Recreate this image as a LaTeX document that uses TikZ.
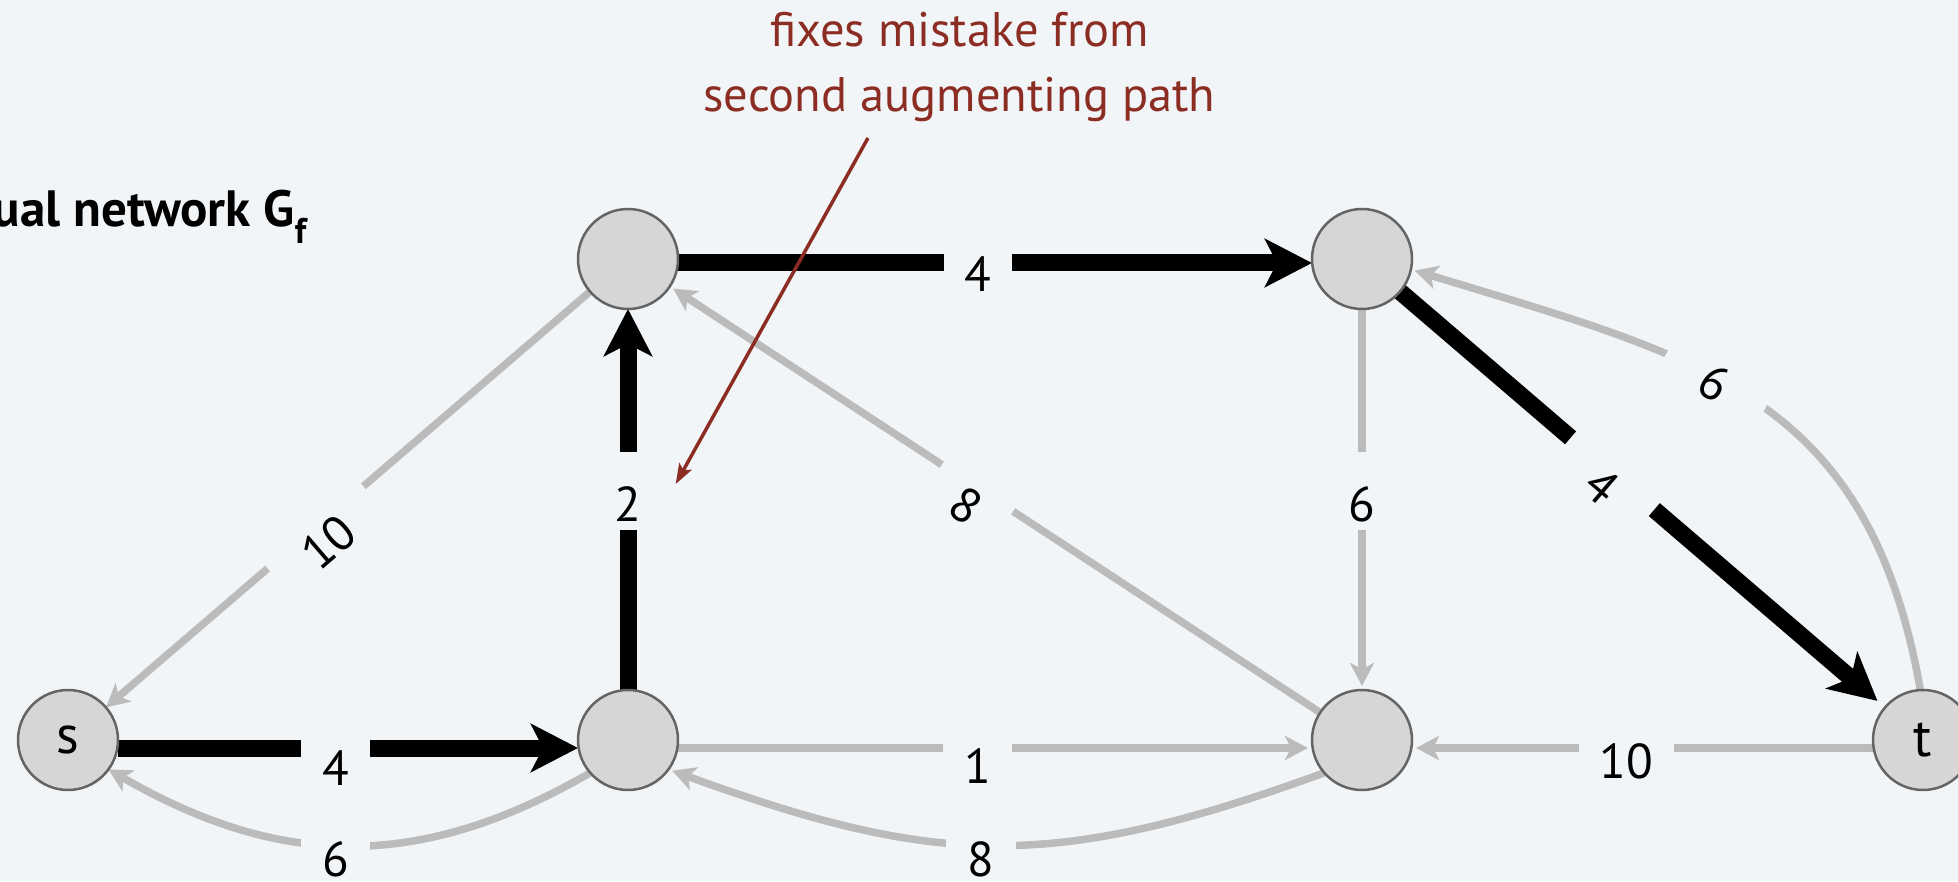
\documentclass[tikz,border=0pt]{standalone}
\usepackage{fontspec}
\setmainfont{PT Sans}
\usetikzlibrary{arrows.meta}
\definecolor{bgc}{RGB}{242,245,248}
\definecolor{nodefill}{RGB}{214,214,214}
\definecolor{nodedraw}{RGB}{100,100,100}
\definecolor{edgegray}{RGB}{187,187,187}
\definecolor{notered}{RGB}{140,45,35}
\pgfdeclarelayer{back}
\pgfsetlayers{back,main}
\newcommand\lblfont{\fontsize{49pt}{51pt}\selectfont}
\newcommand\vtxfont{\fontsize{54pt}{56pt}\selectfont}
\newcommand\notefont{\fontsize{48.5pt}{65pt}\selectfont}
\newcommand\ttlfont{\fontsize{51pt}{56pt}\selectfont\bfseries}
\begin{document}
\begin{tikzpicture}[x=1pt,y=1pt,
  vtx/.style={circle, draw=nodedraw, line width=2.5pt, fill=nodefill, minimum size=100pt, inner sep=0pt, outer sep=0pt, font=\vtxfont},
  blk/.style={line width=17pt, draw=black, -{Stealth[length=47pt,width=48pt,inset=12pt]}},
  gry/.style={line width=7.5pt, draw=edgegray, -{Stealth[length=23pt,width=24pt,inset=6pt]}, shorten >=4pt},
  lbl/.style={fill=bgc, inner xsep=6pt, inner ysep=0pt, font=\lblfont, text=black, minimum width=#1},
  off/.style 2 args={text height=#1, text depth=#2},
  note/.style={font=\notefont, text=notered, inner sep=0pt, anchor=base},
  redarrow/.style={draw=notered, line width=3.5pt, -{Stealth[length=20pt,width=14pt,inset=4pt]}}
]
\useasboundingbox (0,0) rectangle (1958,881);
\clip (0,0) rectangle (1958,881);

% vertices
\node[vtx] (s) at (68,141) {s};
\node[vtx] (A) at (628,141) {};
\node[vtx] (B) at (628,622) {};
\node[vtx] (C) at (1362,622) {};
\node[vtx] (D) at (1362,141) {};
\node[vtx] (t) at (1923,141) {t};

\begin{pgfonlayer}{back}
\fill[bgc] (0,0) rectangle (1958,881);
% black augmenting path
\draw[blk] ([yshift=-8pt]s.east) -- ([yshift=-8pt]A.west)
  node[lbl=69pt, off={77.5pt}{2.5pt}, pos=.473] {4};
\draw[blk] (A) -- (B)
  node[lbl=0pt, off={69.5pt}{8.5pt}, pos=.522] {2};
\draw[blk] ([yshift=-4pt]B.east) -- ([yshift=-4pt]C.west)
  node[lbl=68pt, off={68.5pt}{11.5pt}, pos=.473] {4};
\draw[blk, shorten >=10pt] (C) -- (t)
  node[lbl=110pt, sloped, off={73.5pt}{6.5pt}, pos=.438] {4};
% gray residual edges
\draw[gry, shorten >=0pt] (B) -- (s)
  node[lbl=126pt, sloped, off={76.5pt}{3.5pt}, pos=.567] {10};
\draw[gry] (D) -- (B)
  node[lbl=85pt, sloped, off={77.5pt}{2.5pt}, pos=.527] {8};
\draw[gry] ([yshift=-8pt]A.east) -- ([yshift=-8pt]D.west)
  node[lbl=69pt, off={75.5pt}{4.5pt}, pos=.473] {1};
\draw[gry] ([yshift=-8pt]t.west) -- ([yshift=-8pt]D.east)
  node[lbl=95pt, off={70.5pt}{9.5pt}, pos=.535] {10};
\draw[gry] (C) -- (D)
  node[lbl=0pt, off={69.5pt}{8.5pt}, pos=.478] {6};
\draw[gry, shorten >=0pt] (A.-139) to[out=210, in=-30, looseness=1.05]
  node[lbl=69pt, off={65pt}{2pt}, pos=.53] {6} (s.-36);
\draw[gry] (D.-139) to[out=200, in=-20, looseness=1.12]
  node[lbl=70pt, off={65pt}{2pt}, pos=.526] {8} (A.-36);
\draw[gry] (t.93) to[out=100, in=-17, looseness=1.17]
  node[lbl=113pt, sloped, off={61.5pt}{18.5pt}, pos=.57] {6} (C.-12);
\end{pgfonlayer}

% title (cut at the left edge)
\node[font=\ttlfont, inner sep=0pt, anchor=base east] (title) at (307,654.3) {residual network G\textsubscript{f}};

% annotation
\node[note] (n1) at (959.5,834.3) {fixes mistake from};
\node[note] (n2) at (959.5,769.3) {second augmenting path};
\coordinate (rs) at (868,743);
\coordinate (re) at (675.7,397);
\draw[redarrow] (rs) -- (re);
\end{tikzpicture}
\end{document}
